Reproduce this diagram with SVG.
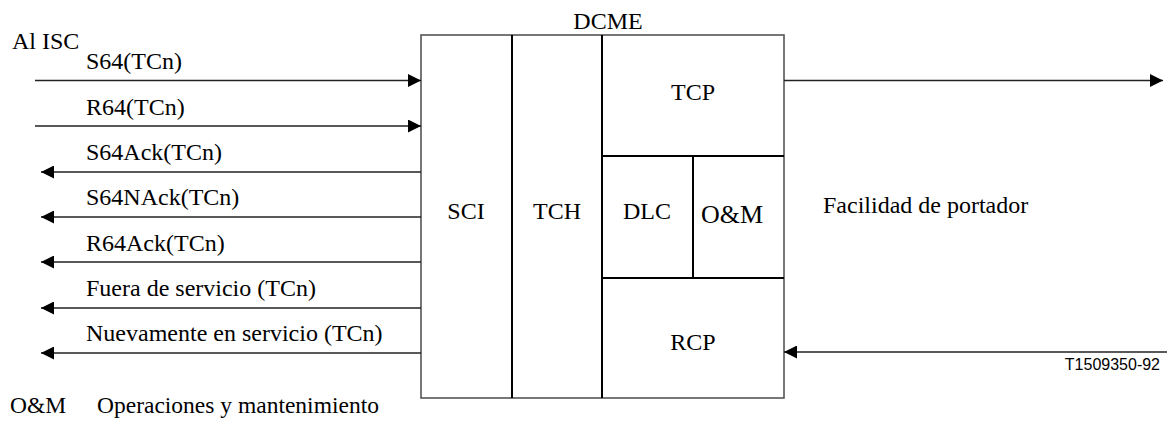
<svg xmlns="http://www.w3.org/2000/svg" width="1167" height="428" viewBox="0 0 1167 428">
<style>
text{font-family:'Liberation Serif','DejaVu Serif',serif;font-size:24px;fill:#000}
.c{text-anchor:middle}
.s{font-family:'Liberation Sans','DejaVu Sans',sans-serif;font-size:16px}
.ln{stroke:#222;stroke-width:1.4;fill:none}
.box{stroke:#555;stroke-width:1.6;fill:#fff}
.dv{stroke:#000;stroke-width:2;fill:none}
</style>
<defs>
<marker id="ah" markerWidth="13" markerHeight="13" viewBox="0 0 13 13" refX="13" refY="6.5" orient="auto" markerUnits="userSpaceOnUse">
<path d="M0,0 L13,6.5 L0,13 Z" fill="#000"/>
</marker>
</defs>
<rect width="1167" height="428" fill="#fff"/>
<g id="dcme">
<rect class="box" x="421" y="35" width="363" height="363"/>
<text class="c" x="608" y="29">DCME</text>
</g>
<g id="sci">
<text class="c" x="466" y="219">SCI</text>
</g>
<g id="tch">
<line class="dv" x1="512" y1="35" x2="512" y2="398"/>
<text class="c" x="557" y="219">TCH</text>
</g>
<g id="tcp">
<line class="dv" x1="602" y1="35" x2="602" y2="398"/>
<text class="c" x="693" y="100">TCP</text>
</g>
<g id="dlc">
<line class="dv" x1="602" y1="156" x2="784" y2="156"/>
<text class="c" x="647" y="219">DLC</text>
</g>
<g id="om">
<line class="dv" x1="693" y1="156" x2="693" y2="278"/>
<text class="c" x="732" y="223" style="font-size:26px">O&amp;M</text>
</g>
<g id="rcp">
<line class="dv" x1="602" y1="278" x2="784" y2="278"/>
<text class="c" x="693" y="350">RCP</text>
</g>
<g id="connectors">
<line class="ln" x1="35" y1="80.5" x2="421" y2="80.5" marker-end="url(#ah)"/>
<line class="ln" x1="35" y1="126" x2="421" y2="126" marker-end="url(#ah)"/>
<line class="ln" x1="421" y1="172" x2="41" y2="172" marker-end="url(#ah)"/>
<line class="ln" x1="421" y1="217" x2="41" y2="217" marker-end="url(#ah)"/>
<line class="ln" x1="421" y1="262" x2="41" y2="262" marker-end="url(#ah)"/>
<line class="ln" x1="421" y1="308" x2="41" y2="308" marker-end="url(#ah)"/>
<line class="ln" x1="421" y1="353" x2="41" y2="353" marker-end="url(#ah)"/>
<line class="ln" x1="784" y1="80.5" x2="1163" y2="80.5" marker-end="url(#ah)"/>
<line class="ln" x1="1167" y1="352" x2="784" y2="352" marker-end="url(#ah)"/>
</g>
<g id="labels">
<text x="12" y="49">Al ISC</text>
<text x="86" y="69">S64(TCn)</text>
<text x="86" y="115">R64(TCn)</text>
<text x="86" y="160">S64Ack(TCn)</text>
<text x="86" y="205">S64NAck(TCn)</text>
<text x="86" y="251">R64Ack(TCn)</text>
<text x="86" y="296">Fuera de servicio (TCn)</text>
<text x="86" y="341">Nuevamente en servicio (TCn)</text>
<text x="823" y="213">Facilidad de portador</text>
<text class="s" x="1160" y="370" text-anchor="end">T1509350-92</text>
<text x="10" y="413" style="font-size:23.5px">O&amp;M</text>
<text x="97" y="413" style="font-size:23.5px">Operaciones y mantenimiento</text>
</g>
</svg>
